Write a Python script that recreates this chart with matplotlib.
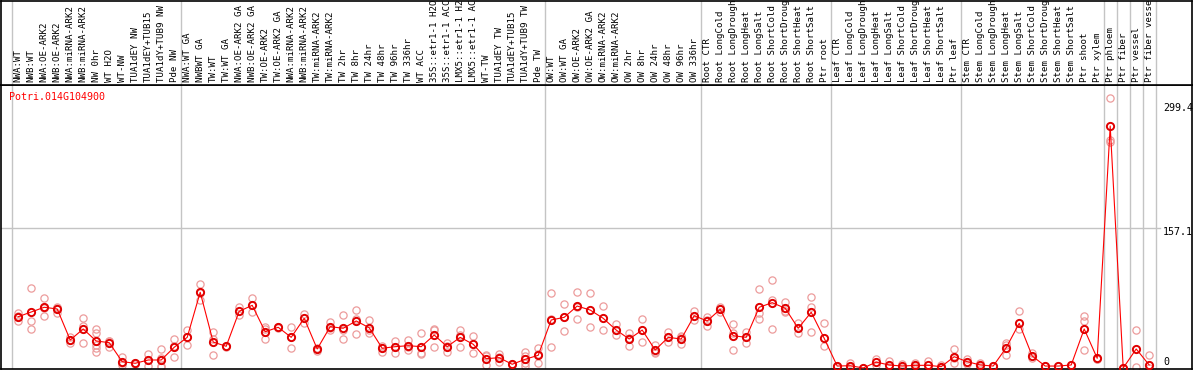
import matplotlib
matplotlib.use("Agg")
import matplotlib.pyplot as plt
import matplotlib.transforms as mtransforms
import numpy as np

# ---------------- data ----------------
gene_id = "Potri.014G104900"

samples = [
    "NWA:WT", "NWB:WT", "NWA:OE-ARK2", "NWB:OE-ARK2", "NWA:miRNA-ARK2", "NWB:miRNA-ARK2",
    "NW 0hr", "WT H2O", "WT-NW", "TUA1dEY NW", "TUA1dEY+TUB15", "TUA1dY+TUB9 NW", "Pde NW",
    "NWA:WT GA", "NWBWT GA", "TW:WT", "TW:WT GA", "NWA:OE-ARK2 GA", "NWB:OE-ARK2 GA",
    "TW:OE-ARK2", "TW:OE-ARK2 GA", "NWA:miRNA-ARK2", "NWB:miRNA-ARK2", "TW:miRNA-ARK2",
    "TW:miRNA-ARK2", "TW 2hr", "TW 8hr", "TW 24hr", "TW 48hr", "TW 96hr", "TW 336hr", "WT ACC",
    "35S::etr1-1 H2O", "35S::etr1-1 ACC", "LMX5::etr1-1 H2O", "LMX5::etr1-1 ACC", "WT-TW",
    "TUA1dEY TW", "TUA1dEY+TUB15", "TUA1dY+TUB9 TW", "Pde TW",
    "OW:WT", "OW:WT GA", "OW:OE-ARK2", "OW:OE-ARK2 GA", "OW:miRNA-ARK2", "OW:miRNA-ARK2",
    "OW 2hr", "OW 8hr", "OW 24hr", "OW 48hr", "OW 96hr", "OW 336hr",
    "Root CTR", "Root LongCold", "Root LongDrought", "Root LongHeat", "Root LongSalt",
    "Root ShortCold", "Root ShortDrought", "Root ShortHeat", "Root ShortSalt", "Ptr root",
    "Leaf CTR", "Leaf LongCold", "Leaf LongDrought", "Leaf LongHeat", "Leaf LongSalt",
    "Leaf ShortCold", "Leaf ShortDrought", "Leaf ShortHeat", "Leaf ShortSalt", "Ptr leaf",
    "Stem CTR", "Stem LongCold", "Stem LongDrought", "Stem LongHeat", "Stem LongSalt",
    "Stem ShortCold", "Stem ShortDrought", "Stem ShortHeat", "Stem ShortSalt", "Ptr shoot",
    "Ptr xylem", "Ptr phloem", "Ptr fiber", "Ptr vessel", "Ptr fiber vessel",
]

group_sizes = [13, 28, 12, 10, 10, 11, 1, 1, 1, 1]

means = [
    57.7, 63.0, 68.3, 66.4, 31.5, 43.9, 30.4, 28.5, 7.1, 5.3, 9.0, 9.0, 23.3,
    34.5, 85.2, 29.2, 24.4, 63.8, 70.5, 40.8, 45.8, 34.5, 55.9, 21.4, 46.5, 44.7,
    52.9, 45.3, 22.2, 24.0, 25.1, 24.0, 37.1, 24.0, 34.5, 26.7, 10.5, 11.6, 4.2,
    9.8, 14.3,
    54.0, 57.0, 69.7, 65.2, 55.9, 42.7, 32.6, 42.7, 20.2, 34.5, 32.6, 58.8,
    52.9, 66.0, 36.3, 34.5, 68.3, 73.5, 67.2, 44.7, 62.7, 33.4,
    2.2, 2.6, 0.0, 6.6, 3.4, 2.2, 3.0, 3.0, 1.5, 12.7,
    7.1, 3.4, 2.2, 22.8, 50.3, 13.5, 2.2, 2.2, 3.4, 43.9, 10.9,
    272.2, 0.0, 21.4, 3.4,
]

replicates = [
    [61.5, 53.2, 58.0], [89.7, 53.2, 44.2], [78.4, 58.5, 68.0], [69.0, 62.2, 67.5],
    [34.5, 28.5, 31.5], [55.9, 47.2, 27.8], [43.9, 39.7, 25.9, 22.2, 18.0],
    [30.7, 24.0, 30.5], [12.7, 3.4, 5.2], [5.8, 4.8], [15.7, 2.2, 9.1],
    [21.0, 2.2, 1.0, 11.5], [32.3, 12.7, 24.8],
    [42.7, 26.2, 34.6], [94.5, 76.5, 84.6], [40.5, 14.3, 32.8], [24.4, 23.5],
    [68.3, 59.3], [78.4, 63.0], [46.5, 32.3, 43.6], [46.5, 45.0], [46.5, 22.2, 34.8],
    [60.7, 51.0], [19.1, 23.0], [52.1, 42.7, 44.7], [59.6, 32.3, 42.2],
    [65.2, 38.2, 55.3], [54.0, 39.7, 42.2], [18.3, 23.0, 25.3], [30.7, 17.2, 24.1],
    [31.5, 20.2, 23.6], [39.7, 16.5, 15.8], [44.2, 24.0, 43.1], [28.5, 18.3, 25.2],
    [42.7, 24.0, 36.8], [36.0, 17.2], [13.5, 3.4, 14.6], [15.7, 6.7, 12.4],
    [4.2, 3.0], [18.3, 5.6, 1.9, 13.4], [22.2, 5.3, 15.4],
    [84.0, 23.3, 54.7], [72.0, 41.6, 57.4], [85.2, 54.8, 69.1], [84.7, 45.8],
    [69.7, 42.7], [49.5, 36.8], [39.0, 25.1, 33.7], [54.8, 28.9], [25.9, 16.5, 18.2],
    [40.8, 28.9], [36.0, 27.0, 34.8], [64.4, 54.0],
    [57.7, 47.2, 53.8], [69.0, 66.5, 62.5], [49.5, 20.2, 39.2], [40.8, 27.8],
    [88.5, 62.2, 54.8], [99.0, 76.5, 43.9], [74.6, 62.7, 64.3], [51.0, 39.0],
    [80.2, 69.0, 40.8], [51.0, 24.7],
    [2.2, 1.5], [6.0, 0.8], [0.0], [9.8, 3.4], [7.9, 1.0], [4.5, 0.5], [6.0, 1.0],
    [7.9, 0.5], [3.4, 0.5], [21.0, 6.0, 11.0],
    [9.8, 4.5], [6.0, 1.0], [2.2], [27.8, 14.3, 26.0], [64.1, 43.5], [17.2, 11.0],
    [2.2], [2.2], [3.4], [58.5, 53.2, 20.2], [10.5, 10.0],
    [303.4, 256.5, 254.6], [0.0], [42.7, 1.5], [14.3, 0.5],
]

axis_values = [299.4, 157.1, 0]
axis_labels = ["299.4", "157.1", "0"]

# ---------------- layout ----------------
W, H = 1194, 370
fig = plt.figure(figsize=(W / 100, H / 100), dpi=100)
fig.patch.set_facecolor("white")

def fx(px):
    return px / W

def fy(py):
    return 1 - py / H

x_left_px, x_right_px = 1.0, 1192.0
plot_top_px, plot_bot_px = 85.0, 368.5
col0_px, col_w = 18.2, 13.0
xlim = ((x_left_px - col0_px) / col_w, (x_right_px - col0_px) / col_w)

# y scale: value 0 at 368 px, 0.889 px per unit
y0_px, k = 368.0, 0.889
ylim = ((y0_px - plot_bot_px) / k, (y0_px - plot_top_px) / k)

ax = fig.add_axes([fx(x_left_px), fy(plot_bot_px), fx(x_right_px - x_left_px),
                   (plot_bot_px - plot_top_px) / H])
axh = fig.add_axes([fx(x_left_px), fy(plot_top_px), fx(x_right_px - x_left_px),
                    (plot_top_px - 0.5) / H])

for a in (ax, axh):
    a.set_xlim(*xlim)
    a.set_xticks([])
    a.set_yticks([])
    for s in a.spines.values():
        s.set_color("black")
        s.set_linewidth(1.2)
ax.set_ylim(*ylim)
axh.set_ylim(0, 1)

# group separators
bounds = np.concatenate([[0], np.cumsum(group_sizes)]) - 0.5
for b in bounds:
    ax.axvline(b, color="#c4c4c4", lw=1.0, zorder=1)
    axh.axvline(b, color="#c4c4c4", lw=1.0, zorder=1)

# horizontal grid line
ax.axhline(axis_values[1], xmin=0, xmax=(1160 - x_left_px) / (x_right_px - x_left_px),
           color="#c4c4c4", lw=1.0, zorder=1)

# replicates
xs = np.arange(len(means))
for i, reps in enumerate(replicates):
    ax.plot([i] * len(reps), reps, linestyle="none", marker="o", ms=5.2,
            mfc="none", mec="#ec9c9c", mew=0.9, zorder=2)

# means
ax.plot(xs, means, color="#ff0000", lw=0.8, marker="o", ms=5.2, mfc="none",
        mec="#e00000", mew=1.4, zorder=3)

# header labels
mono = "DejaVu Sans Mono"
trans = mtransforms.blended_transform_factory(axh.transData, axh.transAxes)
label_base = (plot_top_px - 82.0) / (plot_top_px - 0.5)
for i, lab in enumerate(samples):
    axh.text(i, label_base, lab, rotation=90, ha="center", va="bottom",
             fontsize=6.6, family=mono, transform=trans, clip_on=True, color="black")

# gene id
fig.text(fx(9.3), fy(97), gene_id, color="#ff0000", fontsize=7.2, family=mono,
         ha="left", va="center")

# right axis labels
label_y_px = [107.7, 232.0, 362.0]
for lab, py in zip(axis_labels, label_y_px):
    fig.text(fx(1163), fy(py), lab, color="black", fontsize=7.2, family=mono,
             ha="left", va="center")

fig.savefig("out.png", dpi=100, facecolor="white")
